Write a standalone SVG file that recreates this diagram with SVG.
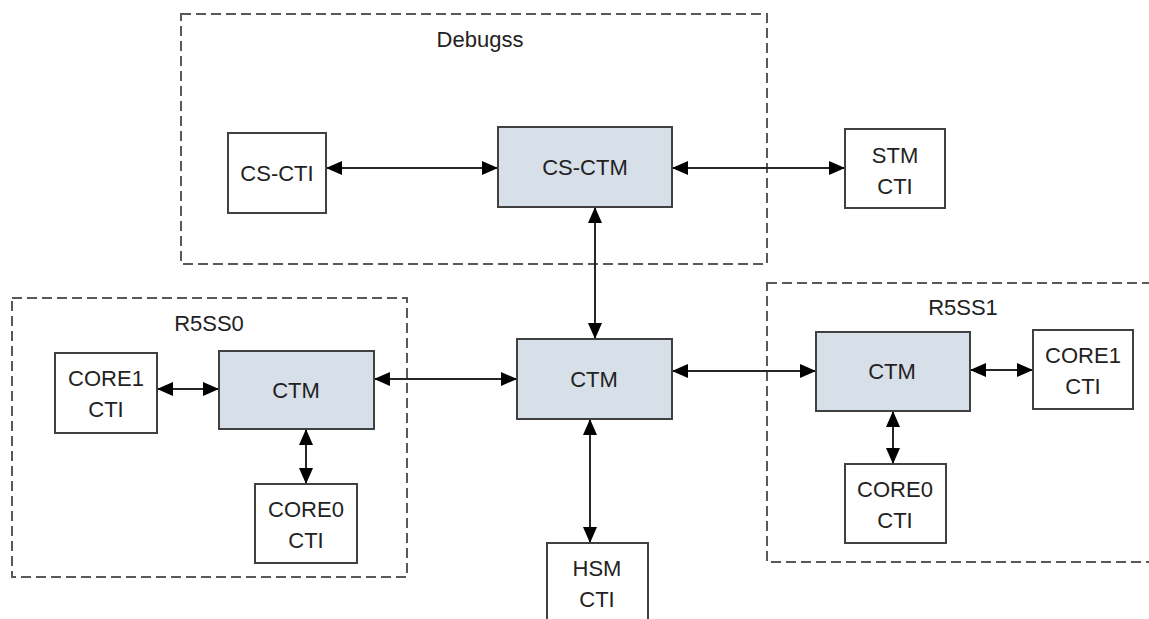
<svg xmlns="http://www.w3.org/2000/svg" width="1149" height="619" viewBox="0 0 1149 619">
<style>
.grp{fill:none;stroke:#595959;stroke-width:2;stroke-dasharray:10 5}
.box{fill:#ffffff;stroke:#404040;stroke-width:2}
.ctm{fill:#d7dfe9;stroke:#404040;stroke-width:2}
.t{font-family:"Liberation Sans",Arial,sans-serif;font-size:22px;fill:#222;text-anchor:middle}
.c{stroke:#262626;stroke-width:2;fill:none;marker-start:url(#ah);marker-end:url(#ah)}
</style>
<defs>
<marker id="ah" markerUnits="userSpaceOnUse" markerWidth="16" markerHeight="14" refX="16" refY="7" orient="auto-start-reverse">
<path d="M0,0 L16,7 L0,14 z" fill="#000"/>
</marker>
</defs>
<rect width="1149" height="619" fill="#fff"/>
<g id="debugss">
<rect class="grp" x="181" y="14" width="586" height="250"/>
<text class="t" x="480" y="47">Debugss</text>
</g>
<g id="r5ss0">
<rect class="grp" x="12" y="298" width="395" height="279"/>
<text class="t" x="209" y="331">R5SS0</text>
</g>
<g id="r5ss1">
<rect class="grp" x="767" y="283" width="400" height="279"/>
<text class="t" x="963" y="315">R5SS1</text>
</g>
<g id="connectors">
<line class="c" x1="326" y1="168" x2="498" y2="168"/>
<line class="c" x1="672" y1="168" x2="845" y2="168"/>
<line class="c" x1="595" y1="207" x2="595" y2="339"/>
<line class="c" x1="157" y1="389" x2="219" y2="389"/>
<line class="c" x1="306" y1="429" x2="306" y2="484"/>
<line class="c" x1="374" y1="379" x2="517" y2="379"/>
<line class="c" x1="672" y1="371" x2="816" y2="371"/>
<line class="c" x1="970" y1="370" x2="1033" y2="370"/>
<line class="c" x1="893" y1="411" x2="893" y2="464"/>
<line class="c" x1="590" y1="419" x2="590" y2="543"/>
</g>
<g id="cs-cti">
<rect class="box" x="228" y="133" width="98" height="80"/>
<text class="t" x="277" y="181">CS-CTI</text>
</g>
<g id="cs-ctm">
<rect class="ctm" x="498" y="127" width="174" height="80"/>
<text class="t" x="585" y="175">CS-CTM</text>
</g>
<g id="stm-cti">
<rect class="box" x="845" y="129" width="100" height="79"/>
<text class="t" x="895" y="163">STM</text>
<text class="t" x="895" y="194">CTI</text>
</g>
<g id="ctm-main">
<rect class="ctm" x="517" y="339" width="155" height="80"/>
<text class="t" x="594" y="387">CTM</text>
</g>
<g id="r5ss0-core1">
<rect class="box" x="55" y="353" width="102" height="80"/>
<text class="t" x="106" y="386">CORE1</text>
<text class="t" x="106" y="417">CTI</text>
</g>
<g id="r5ss0-ctm">
<rect class="ctm" x="219" y="351" width="155" height="78"/>
<text class="t" x="296" y="398">CTM</text>
</g>
<g id="r5ss0-core0">
<rect class="box" x="255" y="484" width="102" height="79"/>
<text class="t" x="306" y="517">CORE0</text>
<text class="t" x="306" y="548">CTI</text>
</g>
<g id="r5ss1-ctm">
<rect class="ctm" x="816" y="332" width="154" height="79"/>
<text class="t" x="892" y="379">CTM</text>
</g>
<g id="r5ss1-core1">
<rect class="box" x="1033" y="330" width="100" height="79"/>
<text class="t" x="1083" y="363">CORE1</text>
<text class="t" x="1083" y="394">CTI</text>
</g>
<g id="r5ss1-core0">
<rect class="box" x="845" y="464" width="101" height="79"/>
<text class="t" x="895" y="497">CORE0</text>
<text class="t" x="895" y="528">CTI</text>
</g>
<g id="hsm-cti">
<rect class="box" x="547" y="543" width="101" height="85"/>
<text class="t" x="597" y="576">HSM</text>
<text class="t" x="597" y="607">CTI</text>
</g>
</svg>
